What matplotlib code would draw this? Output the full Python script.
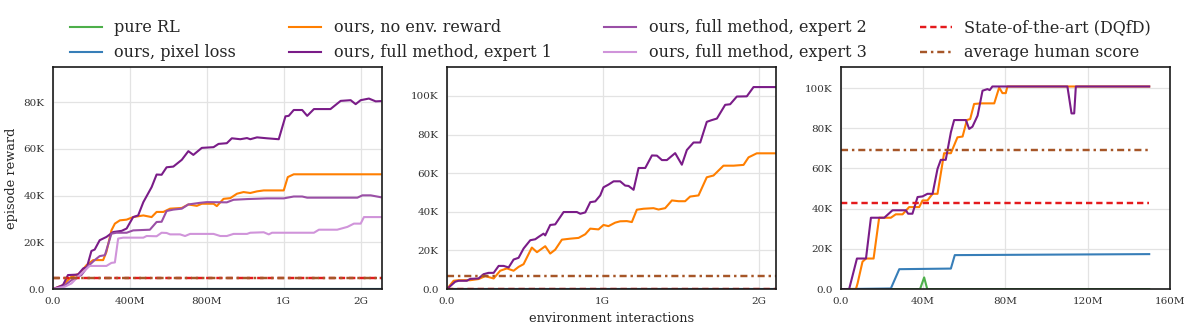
import numpy as np
import matplotlib
matplotlib.use("Agg")
import matplotlib.pyplot as plt
from matplotlib.ticker import FuncFormatter, MultipleLocator

plt.rcParams["font.family"] = ["DejaVu Serif"]

# ---- panel 1 (x in M, y in K) ----
p1_e1_x = [0, 52, 78, 130, 157, 177, 200, 217, 243, 278, 313, 357, 383, 417, 443, 470, 513, 539, 565, 591, 626, 670, 704, 730, 774, 835, 861, 904, 930, 974, 1009, 1026, 1061, 1113, 1174, 1209, 1226, 1252, 1296, 1322, 1357, 1443, 1496, 1548, 1574, 1600, 1643, 1678, 1704]
p1_e1_y = [0, 1.7, 6, 6.2, 8.8, 9.5, 16.3, 16.9, 20.9, 22.3, 24.4, 24.9, 25.9, 30.8, 31.5, 37.2, 43.6, 49, 48.9, 52.1, 52.4, 55.3, 59, 57.4, 60.4, 60.7, 62.1, 62.4, 64.5, 64.1, 64.6, 64.1, 64.9, 64.5, 64.1, 73.9, 74.1, 76.6, 76.6, 74.1, 77, 77, 80.5, 80.8, 79.1, 80.8, 81.5, 80.3, 80.4]
p1_ne_x = [0, 52, 96, 139, 174, 209, 261, 278, 304, 322, 348, 383, 417, 470, 513, 539, 574, 609, 670, 704, 748, 774, 835, 852, 887, 922, 957, 991, 1026, 1061, 1096, 1200, 1221, 1252, 1704]
p1_ne_y = [0, 1.7, 5.3, 6.7, 10.2, 12.4, 12.4, 15.9, 25.1, 28, 29.4, 29.7, 30.8, 31.5, 30.8, 33, 33, 34.4, 34.7, 36.2, 35.6, 36.5, 36.5, 35.5, 38.6, 38.9, 40.8, 41.5, 41.1, 41.8, 42.2, 42.2, 47.9, 49.1, 49.1]
p1_e2_x = [0, 52, 96, 148, 183, 217, 243, 270, 304, 330, 383, 417, 504, 539, 565, 591, 626, 670, 704, 765, 800, 904, 939, 1009, 1113, 1200, 1252, 1296, 1322, 1583, 1609, 1652, 1704]
p1_e2_y = [0, 1, 3.8, 6, 9.8, 12.4, 14.1, 14.5, 23.7, 24.1, 24.1, 25.1, 25.4, 28.7, 28.8, 33.4, 34, 34.4, 36.2, 36.9, 37.2, 37.1, 38.2, 38.5, 38.8, 38.8, 39.6, 39.6, 39.1, 39.1, 40.1, 40.1, 39.3]
p1_e3_x = [0, 61, 96, 139, 191, 278, 304, 322, 339, 365, 470, 487, 539, 565, 591, 609, 661, 687, 713, 835, 870, 904, 939, 1009, 1026, 1096, 1122, 1139, 1357, 1383, 1478, 1531, 1565, 1600, 1617, 1704]
p1_e3_y = [0, 1, 2.4, 6, 9.9, 9.9, 11.2, 11.4, 21.6, 22, 22, 22.7, 22.6, 24.1, 24, 23.4, 23.4, 22.7, 23.6, 23.6, 22.7, 22.7, 23.6, 23.6, 24.1, 24.3, 23.4, 24.1, 24.1, 25.4, 25.4, 26.6, 28, 28, 30.8, 30.8]
p1_end = 1710
p1_dqfd = 4.8
p1_human = 4.8

# ---- panel 2 (x in G, y in K) ----
p2_e1_x = [0, 0.053, 0.075, 0.128, 0.15, 0.203, 0.235, 0.267, 0.3, 0.332, 0.364, 0.396, 0.428, 0.46, 0.492, 0.535, 0.567, 0.588, 0.62, 0.631, 0.663, 0.695, 0.749, 0.834, 0.856, 0.888, 0.92, 0.952, 0.984, 1.005, 1.037, 1.07, 1.112, 1.144, 1.166, 1.198, 1.23, 1.273, 1.316, 1.348, 1.38, 1.412, 1.465, 1.508, 1.54, 1.583, 1.626, 1.668, 1.7, 1.733, 1.786, 1.818, 1.861, 1.925, 1.968, 2.111]
p2_e1_y = [0, 3.8, 4.3, 4.3, 5.3, 5.5, 7.7, 8.4, 8.4, 12, 12, 11.2, 15.3, 16.2, 21, 25.3, 25.8, 27, 28.7, 27.8, 33.2, 33.5, 39.9, 39.9, 39, 39.7, 45, 45.4, 48.5, 52.7, 54.1, 55.8, 55.8, 53.6, 53.4, 51.4, 62.7, 62.7, 69.2, 69.1, 66.8, 66.8, 70.4, 64.4, 72, 75.9, 75.9, 86.6, 87.5, 88.3, 95.4, 95.7, 99.7, 99.8, 104.6, 104.6]
p2_ne_x = [0, 0.043, 0.075, 0.15, 0.203, 0.246, 0.3, 0.342, 0.385, 0.428, 0.46, 0.492, 0.545, 0.578, 0.631, 0.663, 0.695, 0.738, 0.791, 0.845, 0.888, 0.92, 0.973, 1.005, 1.037, 1.08, 1.112, 1.155, 1.187, 1.219, 1.262, 1.326, 1.358, 1.401, 1.444, 1.487, 1.529, 1.561, 1.615, 1.668, 1.711, 1.775, 1.84, 1.904, 1.936, 1.989, 2.111]
p2_ne_y = [0, 4.3, 4.6, 4.6, 5.2, 6.7, 5.5, 9.5, 10.7, 9.5, 11.5, 12.9, 21.5, 19.1, 22.2, 18.4, 20.4, 25.6, 26.1, 26.5, 28.4, 31.3, 30.9, 33.2, 32.6, 34.4, 35.1, 35.2, 34.7, 41.1, 41.6, 41.9, 41.2, 41.9, 45.9, 45.5, 45.5, 47.9, 48.5, 57.9, 58.8, 63.9, 63.9, 64.3, 68.2, 70.3, 70.3]
p2_end = 2.111
p2_dqfd = 0.0
p2_human = 6.7

# ---- panel 3 (x in M, y in K) ----
p3_e1_x = [0, 4, 7.8, 12.2, 14.6, 21.1, 25.1, 31.6, 32.7, 34.8, 37.3, 39.7, 42.1, 44.6, 47, 48.6, 51, 53.5, 55.1, 60.8, 62.4, 64, 66.5, 68.9, 71.3, 72.4, 73.7, 110.2, 112.2, 113.5, 114.3, 150]
p3_e1_y = [0, 0, 15.2, 15.2, 35.5, 35.5, 39.2, 39.2, 37.5, 37.5, 45.8, 46.1, 47.4, 47.4, 59.8, 64.3, 64.3, 78, 84.1, 84.1, 79.7, 80.8, 86.3, 98.7, 99.5, 99, 100.8, 100.8, 87.4, 87.4, 100.8, 100.8]
p3_ne_x = [0, 7.3, 8.1, 10.5, 12.2, 15.9, 18.6, 24.3, 26.7, 30, 33.2, 38.1, 39.7, 42.1, 44.6, 47, 50.2, 53.5, 56.7, 59.2, 61.3, 62.9, 64.8, 68.1, 74.6, 77, 78.6, 80.2, 81, 150]
p3_ne_y = [0, 0, 2.8, 13.6, 15.2, 15.2, 35.5, 35.5, 37.2, 37.2, 40.8, 40.8, 44.1, 44.1, 47.4, 47.4, 67.6, 67.6, 75.5, 75.9, 84.1, 84.6, 92.1, 92.4, 92.4, 100.3, 97.5, 97.5, 100.8, 100.8]
p3_px_x = [0, 24.3, 28.4, 53.5, 55.4, 150]
p3_px_y = [0, 0.3, 9.9, 10.2, 16.9, 17.4]
p3_rl_x = [0, 38.5, 40.5, 42, 150]
p3_rl_y = [0, 0, 5.8, 0, 0]
p3_end = 150
p3_dqfd = 42.8
p3_human = 69.4

c_rl = "#4daf4a"
c_px = "#377eb8"
c_ne = "#ff7f00"
c_e1 = "#7a1c88"
c_e2 = "#9a4fa6"
c_e3 = "#d094da"
c_dq = "#e41a1c"
c_hu = "#a65628"


def fmt(v, pos):
    if v == 0:
        return "0.0"
    for unit, s in [(1e9, "G"), (1e6, "M"), (1e3, "K")]:
        if abs(v) >= unit:
            return "%.0f%s" % (v / unit, s)
    return "%.0f" % v


fig, axes = plt.subplots(1, 3, figsize=(11.9, 3.3), dpi=100)
plt.subplots_adjust(left=0.0445, right=0.983, bottom=0.124, top=0.797, wspace=0.198)

lw = 1.5
M = 1e6
G = 1e9
K = 1e3


def style(ax, xmax, ymax, xstep):
    ax.set_xlim(0, xmax)
    ax.set_ylim(0, ymax)
    ax.xaxis.set_major_locator(MultipleLocator(xstep))
    ax.yaxis.set_major_locator(MultipleLocator(20000))
    ax.xaxis.set_major_formatter(FuncFormatter(fmt))
    ax.yaxis.set_major_formatter(FuncFormatter(fmt))
    ax.grid(True, color="#e3e3e3", linewidth=0.9)
    ax.set_axisbelow(True)
    ax.tick_params(length=0, labelsize=7.5, colors="#333333", pad=6)
    for sp in ax.spines.values():
        sp.set_color("#1a1a1a")
        sp.set_linewidth(1.2)


def baselines(ax, end, dq, hu):
    ax.plot([0, end], [dq, dq], color=c_dq, lw=1.75, dashes=(2.6, 1.6), label="State-of-the-art (DQfD)")
    ax.plot([0, end], [hu, hu], color=c_hu, lw=1.75, dashes=(2.9, 1.6, 1.0, 1.6), label="average human score")


# panel 1
ax = axes[0]
x1 = np.array([0, p1_end]) * M
ax.plot(x1, [0, 0], color=c_rl, lw=lw, label="pure RL")
ax.plot(x1, [0, 0], color=c_px, lw=lw, label="ours, pixel loss")
ax.plot(np.array(p1_ne_x) * M, np.array(p1_ne_y) * K, color=c_ne, lw=lw, label="ours, no env. reward")
ax.plot(np.array(p1_e1_x) * M, np.array(p1_e1_y) * K, color=c_e1, lw=lw, label="ours, full method, expert 1")
ax.plot(np.array(p1_e2_x) * M, np.array(p1_e2_y) * K, color=c_e2, lw=lw, label="ours, full method, expert 2")
ax.plot(np.array(p1_e3_x) * M, np.array(p1_e3_y) * K, color=c_e3, lw=lw, label="ours, full method, expert 3")
baselines(ax, p1_end * M, p1_dqfd * K, p1_human * K)
style(ax, 1710 * M, 95 * K, 400 * M)
ax.set_ylabel("episode reward", fontsize=9.3, color="#262626")

# panel 2
ax = axes[1]
x2 = np.array([0, p2_end]) * G
ax.plot(x2, [0, 0], color=c_rl, lw=lw)
ax.plot(x2, [0, 0], color=c_px, lw=lw)
ax.plot(np.array(p2_ne_x) * G, np.array(p2_ne_y) * K, color=c_ne, lw=lw)
ax.plot(np.array(p2_e1_x) * G, np.array(p2_e1_y) * K, color=c_e1, lw=lw)
baselines(ax, p2_end * G, p2_dqfd * K, p2_human * K)
style(ax, 2.111 * G, 115 * K, 1 * G)
ax.set_xlabel("environment interactions", fontsize=9.3, color="#262626")

# panel 3
ax = axes[2]
ax.plot(np.array(p3_rl_x) * M, np.array(p3_rl_y) * K, color=c_rl, lw=lw)
ax.plot(np.array(p3_px_x) * M, np.array(p3_px_y) * K, color=c_px, lw=lw)
ax.plot(np.array(p3_ne_x) * M, np.array(p3_ne_y) * K, color=c_ne, lw=lw)
ax.plot(np.array(p3_e1_x) * M, np.array(p3_e1_y) * K, color=c_e1, lw=lw)
baselines(ax, p3_end * M, p3_dqfd * K, p3_human * K)
style(ax, 160 * M, 110.5 * K, 40 * M)

handles, labels = axes[0].get_legend_handles_labels()
fig.legend(handles, labels, loc="upper center", bbox_to_anchor=(0.513, 0.985), ncol=4,
           frameon=False, fontsize=11.5, columnspacing=3.3, labelcolor="#262626")

fig.savefig("out.png", dpi=100)
